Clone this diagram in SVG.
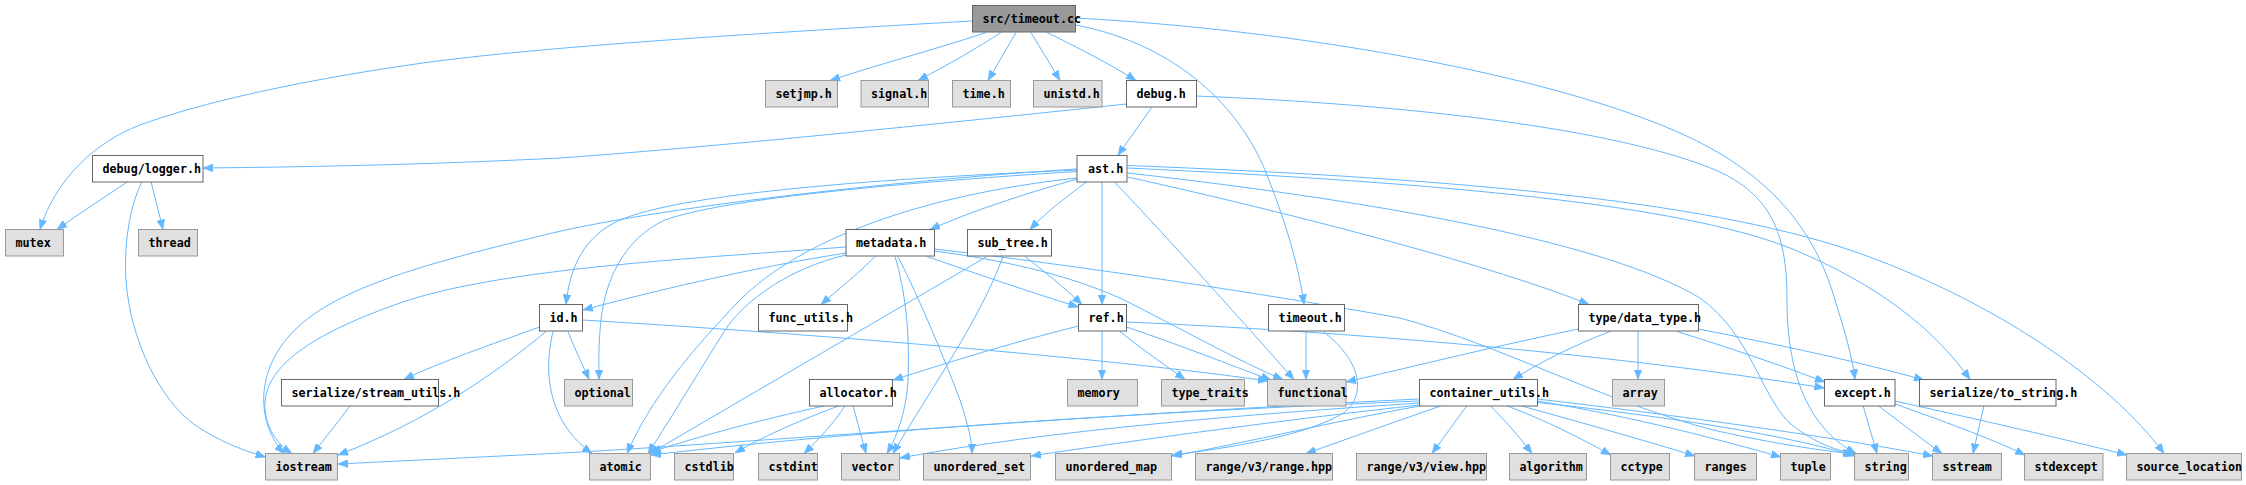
<svg xmlns="http://www.w3.org/2000/svg" width="2246" height="485" viewBox="0 0 2246 485">
<defs>
<style>
.n rect{fill:#ffffff;stroke:#666666;stroke-width:1}
.x rect{fill:#E0E0E0;stroke:#999999;stroke-width:1}
.r rect{fill:#999999;stroke:#666666;stroke-width:1}
text{font-family:"DejaVu Sans Mono","Liberation Mono",monospace;font-weight:bold;font-size:11.7px;fill:#000000}
#edges path{fill:none;stroke:#63B8FF;stroke-width:1;marker-end:url(#arr)}
</style>
<marker id="arr" markerWidth="10" markerHeight="8" refX="10" refY="4" orient="auto" markerUnits="userSpaceOnUse">
<path d="M0,0 L10,4 L0,8 z" fill="#63B8FF" stroke="#63B8FF" stroke-width="0.5"/>
</marker>
</defs>
<rect x="0" y="0" width="2246" height="485" fill="#ffffff"/>
<g id="edges">
<path d="M972,21 C780,32 560,45 430,62 C300,80 200,103 140,125 C95,142 55,180 40,229.5"/>
<path d="M986,32.5 C950,45 880,64 830,80.5"/>
<path d="M1001,32.5 C980,46 950,64 918,80.5"/>
<path d="M1016,32.5 L988,80.5"/>
<path d="M1031,32.5 L1060,80.5"/>
<path d="M1047,32.5 C1075,46 1110,64 1136,80.5"/>
<path d="M1075.5,25 C1180,45 1240,110 1265,170 C1285,220 1298,262 1304,304.5"/>
<path d="M1075.5,18 C1300,30 1550,75 1680,133 C1770,173 1815,230 1835,300 C1845,332 1852,356 1855,379.5"/>
<path d="M1126.5,104 C900,128 700,148 560,158 C420,165 300,167 203,168"/>
<path d="M1151.5,107.5 C1140,125 1128,140 1118,155.5"/>
<path d="M1196.5,96 C1400,104 1620,128 1720,172 C1775,198 1787,240 1787,300 C1787,385 1815,432 1856,453.5"/>
<path d="M128,181.5 C105,197 80,213 57,229.5"/>
<path d="M151,181.5 L163,229.5"/>
<path d="M142,181.5 C128,210 124,250 126,280 C130,340 160,400 195,425 C220,442 245,451 265.5,457"/>
<path d="M1077,169 C900,180 650,208 540,236 C420,265 330,290 290,335 C250,380 262,430 284,453.5"/>
<path d="M846,247 C700,258 500,268 400,303 C300,338 262,372 265,410 C267,432 280,446 292,453.5"/>
<path d="M350,405.5 C340,420 325,438 313,453.5"/>
<path d="M546,331.5 C500,370 430,420 338,455"/>
<path d="M1419.5,399 C1100,414 700,446 562,453 C480,457 400,461 338,464"/>
<path d="M1419.5,401 C1200,410 900,426 651,455"/>
<path d="M1419.5,403 C1250,414 1050,430 900,458"/>
<path d="M1419.5,405 C1300,418 1150,438 1031,456"/>
<path d="M1419.5,406 C1340,420 1250,442 1172,456"/>
<path d="M1442,405.5 C1400,420 1350,438 1306,453.5"/>
<path d="M1467,405.5 L1432,453.5"/>
<path d="M1490,405.5 C1505,420 1520,438 1532,453.5"/>
<path d="M1506,405.5 C1545,420 1580,438 1611,455"/>
<path d="M1520,405.5 C1590,425 1650,442 1695,456"/>
<path d="M1537.5,401 C1640,418 1720,440 1781,457"/>
<path d="M1537.5,402.5 C1680,418 1790,436 1855,456"/>
<path d="M1537.5,399 C1700,418 1850,440 1933,456"/>
<path d="M1077,170 C850,180 680,195 620,220 C585,236 570,265 566,304.5"/>
<path d="M1077,171.5 C880,184 720,200 665,220 C625,238 605,280 601,320 C598,350 599,365 599,379.5"/>
<path d="M568,331.5 C575,350 583,365 589,379.5"/>
<path d="M553,331.5 C543,372 548,422 592,453.5"/>
<path d="M539.5,327 C490,345 440,362 404,379.5"/>
<path d="M582.5,320 C800,333 1100,357 1268,381"/>
<path d="M1077,178 C920,195 800,240 740,300 C690,352 650,400 627,453.5"/>
<path d="M846,255 C790,268 745,300 725,330 C700,370 670,420 648,453.5"/>
<path d="M987,256.5 L649,454"/>
<path d="M1003,256.5 C980,320 930,390 893,453.5"/>
<path d="M1025,256.5 C1045,272 1065,288 1082,304.5"/>
<path d="M846,253 C750,268 650,292 583,310"/>
<path d="M875,256.5 C860,272 840,288 821,304.5"/>
<path d="M895,256.5 C905,290 910,330 908,380 C906,415 895,440 887,453.5"/>
<path d="M898,256.5 C920,300 945,360 960,400 C968,425 972,440 972,453.5"/>
<path d="M927,256.5 C980,275 1030,292 1078.5,307"/>
<path d="M934.5,251 C1000,260 1060,272 1120,298 C1180,328 1240,362 1283,379.5"/>
<path d="M934.5,249 C1100,268 1300,300 1400,318 C1500,345 1600,400 1713,430 C1780,445 1820,450 1853,454"/>
<path d="M1077.5,179 C1020,195 970,212 930,229.5"/>
<path d="M1087,181.5 C1065,198 1045,213 1030,229.5"/>
<path d="M1127.5,177 C1300,215 1500,268 1589,304.5"/>
<path d="M1114,181.5 C1170,240 1250,330 1294,379.5"/>
<path d="M1102,181.5 L1102,304.5"/>
<path d="M1127.5,173 C1350,198 1600,238 1700,298 C1752,335 1762,400 1792,425 C1815,443 1835,450 1856,454"/>
<path d="M1127.5,168 C1450,183 1680,205 1790,248 C1880,285 1935,330 1970,379.5"/>
<path d="M1127.5,165.5 C1450,178 1700,200 1850,250 C1990,298 2110,380 2164,453.5"/>
<path d="M1306,331.5 L1306,379.5"/>
<path d="M1323,331.5 C1355,355 1370,390 1345,412 C1310,435 1230,448 1172,455"/>
<path d="M1078.5,326 C1010,343 950,362 893,380"/>
<path d="M1102,331.5 L1102,379.5"/>
<path d="M1120,331.5 C1140,348 1165,365 1185,379.5"/>
<path d="M1126.5,327 C1180,345 1230,365 1271,380"/>
<path d="M1126.5,322 C1400,334 1650,360 1824.5,388"/>
<path d="M1610,331.5 C1575,345 1540,362 1513,379.5"/>
<path d="M1638,331.5 L1638,379.5"/>
<path d="M1677,331.5 C1730,348 1780,365 1825,382"/>
<path d="M1698.5,329 C1780,345 1860,362 1924,380"/>
<path d="M1578.5,329 C1500,345 1420,365 1346,382"/>
<path d="M1863,405.5 L1877,453.5"/>
<path d="M1878,405.5 C1900,422 1920,438 1942,453.5"/>
<path d="M1895,404 C1940,420 1990,438 2025,455"/>
<path d="M1895,401 C1980,420 2060,438 2127,455"/>
<path d="M1984,405.5 L1973,453.5"/>
<path d="M826,405.5 C760,420 700,436 651,452"/>
<path d="M840,405.5 C800,420 760,438 735,453"/>
<path d="M845,405.5 C835,422 818,440 804,453.5"/>
<path d="M853,405.5 L866,453.5"/>
</g>
<g id="node-src-timeout-cc" class="r"><rect x="972.5" y="5.5" width="103" height="26.5"/><text x="982.5" y="23">src/timeout.cc</text></g>
<g id="node-setjmp-h" class="x"><rect x="765.5" y="80.5" width="72" height="26.5"/><text x="775.5" y="98">setjmp.h</text></g>
<g id="node-signal-h" class="x"><rect x="861" y="80.5" width="67.5" height="26.5"/><text x="871" y="98">signal.h</text></g>
<g id="node-time-h" class="x"><rect x="952.5" y="80.5" width="58" height="26.5"/><text x="962.5" y="98">time.h</text></g>
<g id="node-unistd-h" class="x"><rect x="1033.5" y="80.5" width="68.5" height="26.5"/><text x="1043.5" y="98">unistd.h</text></g>
<g id="node-debug-h" class="n"><rect x="1126.5" y="80.5" width="70" height="26.5"/><text x="1136.5" y="98">debug.h</text></g>
<g id="node-debug-logger-h" class="n"><rect x="92.5" y="155.5" width="110.5" height="26.5"/><text x="102.5" y="173">debug/logger.h</text></g>
<g id="node-ast-h" class="n"><rect x="1077" y="155.5" width="50" height="26.5"/><text x="1088" y="173">ast.h</text></g>
<g id="node-mutex" class="x"><rect x="5.5" y="229.5" width="58" height="26.5"/><text x="15.5" y="247">mutex</text></g>
<g id="node-thread" class="x"><rect x="138.5" y="229.5" width="59" height="26.5"/><text x="148.5" y="247">thread</text></g>
<g id="node-metadata-h" class="n"><rect x="846" y="229.5" width="88.5" height="26.5"/><text x="856" y="247">metadata.h</text></g>
<g id="node-sub-tree-h" class="n"><rect x="967.5" y="229.5" width="84" height="26.5"/><text x="977.5" y="247">sub_tree.h</text></g>
<g id="node-id-h" class="n"><rect x="539.5" y="304.5" width="43" height="26.5"/><text x="549.5" y="322">id.h</text></g>
<g id="node-func-utils-h" class="n"><rect x="758.5" y="304.5" width="89" height="26.5"/><text x="768.5" y="322">func_utils.h</text></g>
<g id="node-ref-h" class="n"><rect x="1078.5" y="304.5" width="48" height="26.5"/><text x="1088.5" y="322">ref.h</text></g>
<g id="node-timeout-h" class="n"><rect x="1268.5" y="304.5" width="76" height="26.5"/><text x="1278.5" y="322">timeout.h</text></g>
<g id="node-type-data-type-h" class="n"><rect x="1578.5" y="304.5" width="120" height="26.5"/><text x="1588.5" y="322">type/data_type.h</text></g>
<g id="node-serialize-stream-utils-h" class="n"><rect x="281.5" y="379.5" width="157" height="26.5"/><text x="291.5" y="397">serialize/stream_utils.h</text></g>
<g id="node-optional" class="x"><rect x="564.5" y="379.5" width="68" height="26.5"/><text x="574.5" y="397">optional</text></g>
<g id="node-allocator-h" class="n"><rect x="809.5" y="379.5" width="83" height="26.5"/><text x="819.5" y="397">allocator.h</text></g>
<g id="node-memory" class="x"><rect x="1067.5" y="379.5" width="70" height="26.5"/><text x="1077.5" y="397">memory</text></g>
<g id="node-type-traits" class="x"><rect x="1161.5" y="379.5" width="83" height="26.5"/><text x="1171.5" y="397">type_traits</text></g>
<g id="node-functional" class="x"><rect x="1267.5" y="379.5" width="78.5" height="26.5"/><text x="1277.5" y="397">functional</text></g>
<g id="node-container-utils-h" class="n"><rect x="1419.5" y="379.5" width="118" height="26.5"/><text x="1429.5" y="397">container_utils.h</text></g>
<g id="node-array" class="x"><rect x="1612.5" y="379.5" width="52" height="26.5"/><text x="1622.5" y="397">array</text></g>
<g id="node-except-h" class="n"><rect x="1824.5" y="379.5" width="70.5" height="26.5"/><text x="1834.5" y="397">except.h</text></g>
<g id="node-serialize-to-string-h" class="n"><rect x="1919.5" y="379.5" width="136.5" height="26.5"/><text x="1929.5" y="397">serialize/to_string.h</text></g>
<g id="node-iostream" class="x"><rect x="265.5" y="453.5" width="72" height="26.5"/><text x="275.5" y="471">iostream</text></g>
<g id="node-atomic" class="x"><rect x="589.5" y="453.5" width="61" height="26.5"/><text x="599.5" y="471">atomic</text></g>
<g id="node-cstdlib" class="x"><rect x="674.5" y="453.5" width="59" height="26.5"/><text x="684.5" y="471">cstdlib</text></g>
<g id="node-cstdint" class="x"><rect x="758.5" y="453.5" width="59" height="26.5"/><text x="768.5" y="471">cstdint</text></g>
<g id="node-vector" class="x"><rect x="841.5" y="453.5" width="58" height="26.5"/><text x="851.5" y="471">vector</text></g>
<g id="node-unordered-set" class="x"><rect x="923.5" y="453.5" width="107" height="26.5"/><text x="933.5" y="471">unordered_set</text></g>
<g id="node-unordered-map" class="x"><rect x="1055.5" y="453.5" width="116" height="26.5"/><text x="1065.5" y="471">unordered_map</text></g>
<g id="node-range-v3-range-hpp" class="x"><rect x="1195.5" y="453.5" width="137" height="26.5"/><text x="1205.5" y="471">range/v3/range.hpp</text></g>
<g id="node-range-v3-view-hpp" class="x"><rect x="1356.5" y="453.5" width="130" height="26.5"/><text x="1366.5" y="471">range/v3/view.hpp</text></g>
<g id="node-algorithm" class="x"><rect x="1509.5" y="453.5" width="77" height="26.5"/><text x="1519.5" y="471">algorithm</text></g>
<g id="node-cctype" class="x"><rect x="1610.5" y="453.5" width="59" height="26.5"/><text x="1620.5" y="471">cctype</text></g>
<g id="node-ranges" class="x"><rect x="1694.5" y="453.5" width="62" height="26.5"/><text x="1704.5" y="471">ranges</text></g>
<g id="node-tuple" class="x"><rect x="1780.5" y="453.5" width="50" height="26.5"/><text x="1790.5" y="471">tuple</text></g>
<g id="node-string" class="x"><rect x="1854.5" y="453.5" width="54" height="26.5"/><text x="1864.5" y="471">string</text></g>
<g id="node-sstream" class="x"><rect x="1932.5" y="453.5" width="69" height="26.5"/><text x="1942.5" y="471">sstream</text></g>
<g id="node-stdexcept" class="x"><rect x="2024.5" y="453.5" width="78.5" height="26.5"/><text x="2034.5" y="471">stdexcept</text></g>
<g id="node-source-location" class="x"><rect x="2126.5" y="453.5" width="115" height="26.5"/><text x="2136.5" y="471">source_location</text></g>
</svg>
